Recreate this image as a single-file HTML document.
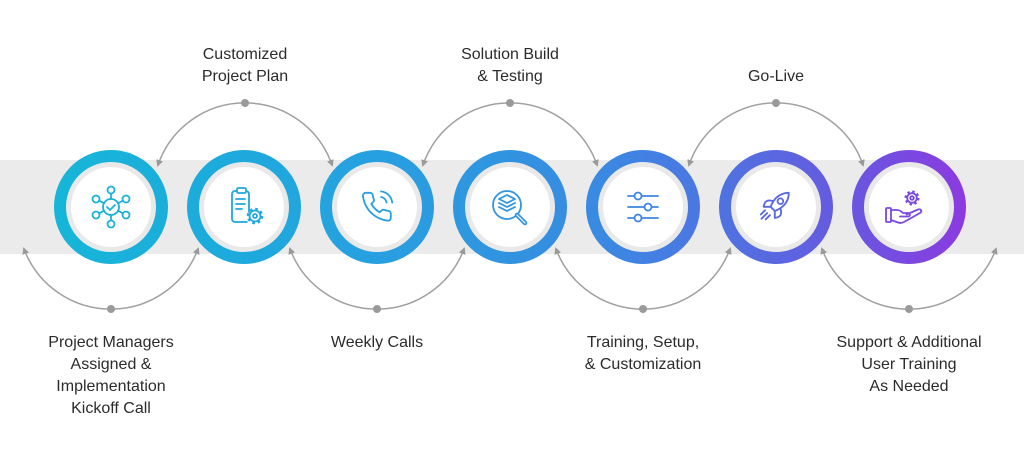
<!DOCTYPE html>
<html><head><meta charset="utf-8"><style>
html,body{margin:0;padding:0;background:#fff;width:1024px;height:454px;overflow:hidden}
svg{display:block}
text{font-family:"Liberation Sans",sans-serif;font-size:16px;fill:#2b2b2b;text-anchor:middle}
</style></head><body>
<svg width="1024" height="454" viewBox="0 0 1024 454" xmlns="http://www.w3.org/2000/svg">
<defs>
<linearGradient id="g" gradientUnits="userSpaceOnUse" x1="54" y1="0" x2="966" y2="0">
<stop offset="0" stop-color="#16b6d8"/>
<stop offset="0.21" stop-color="#1ea9dd"/>
<stop offset="0.35" stop-color="#27a0e0"/>
<stop offset="0.5" stop-color="#3193e0"/>
<stop offset="0.6" stop-color="#3a89e2"/>
<stop offset="0.7" stop-color="#4a78e2"/>
<stop offset="0.79" stop-color="#5968e0"/>
<stop offset="0.88" stop-color="#6a55e0"/>
<stop offset="1" stop-color="#8c3ae0"/>
</linearGradient>
<marker id="ah" viewBox="0 0 7 7" refX="5" refY="3.5" markerWidth="7" markerHeight="7" markerUnits="userSpaceOnUse" orient="auto-start-reverse">
<path d="M0,0 L7,3.5 L0,7 z" fill="#9a9a9a"/>
</marker>
</defs>

<rect x="0" y="160" width="1024" height="94" fill="#ebebeb"/>

<!-- arcs -->
<g fill="none" stroke="#a0a0a0" stroke-width="1.5" marker-start="url(#ah)" marker-end="url(#ah)">
<path d="M158,165 A92,92 0 0 1 332,165"/>
<path d="M423,165 A92,92 0 0 1 597,165"/>
<path d="M689,165 A92,92 0 0 1 863,165"/>
<path d="M24,249 A93,93 0 0 0 198,249"/>
<path d="M290,249 A93,93 0 0 0 464,249"/>
<path d="M556,249 A93,93 0 0 0 730,249"/>
<path d="M822,249 A93,93 0 0 0 996,249"/>
</g>
<g fill="#9a9a9a">
<circle cx="245" cy="103" r="4"/><circle cx="510" cy="103" r="4"/><circle cx="776" cy="103" r="4"/>
<circle cx="111" cy="309" r="4"/><circle cx="377" cy="309" r="4"/><circle cx="643" cy="309" r="4"/><circle cx="909" cy="309" r="4"/>
</g>

<!-- circles -->
<g>
<circle cx="111" cy="207" r="45" fill="#e9e9e9"/><circle cx="111" cy="207" r="40" fill="#fff"/>
<circle cx="244" cy="207" r="45" fill="#e9e9e9"/><circle cx="244" cy="207" r="40" fill="#fff"/>
<circle cx="377" cy="207" r="45" fill="#e9e9e9"/><circle cx="377" cy="207" r="40" fill="#fff"/>
<circle cx="510" cy="207" r="45" fill="#e9e9e9"/><circle cx="510" cy="207" r="40" fill="#fff"/>
<circle cx="643" cy="207" r="45" fill="#e9e9e9"/><circle cx="643" cy="207" r="40" fill="#fff"/>
<circle cx="776" cy="207" r="45" fill="#e9e9e9"/><circle cx="776" cy="207" r="40" fill="#fff"/>
<circle cx="909" cy="207" r="45" fill="#e9e9e9"/><circle cx="909" cy="207" r="40" fill="#fff"/>
</g>
<g fill="none" stroke="url(#g)" stroke-width="12">
<circle cx="111" cy="207" r="51"/><circle cx="244" cy="207" r="51"/><circle cx="377" cy="207" r="51"/>
<circle cx="510" cy="207" r="51"/><circle cx="643" cy="207" r="51"/><circle cx="776" cy="207" r="51"/>
<circle cx="909" cy="207" r="51"/>
</g>

<!-- icon 1: network -->
<g fill="none" stroke="#1bb2d9" stroke-width="1.8" stroke-linecap="round" stroke-linejoin="round">
<circle cx="111" cy="207" r="8"/>
<path d="M107,207 l3,3 l5,-5"/>
<circle cx="111" cy="190" r="3.5"/><circle cx="111" cy="224" r="3.5"/>
<circle cx="96" cy="199" r="3.5"/><circle cx="96" cy="215" r="3.5"/>
<circle cx="126" cy="199" r="3.5"/><circle cx="126" cy="215" r="3.5"/>
<path d="M111,193.5 V199 M111,215 V220.5 M99,200.6 L104,203.3 M99,213.4 L104,210.7 M123,200.6 L118,203.3 M123,213.4 L118,210.7"/>
</g>

<!-- icon 2: clipboard + gear -->
<g fill="none" stroke="#1ea8dd" stroke-width="1.8" stroke-linecap="round" stroke-linejoin="round">
<path d="M249,212 V194 a3,3 0 0 0 -3,-3 H235 a3,3 0 0 0 -3,3 V219 a3,3 0 0 0 3,3 H247"/>
<rect x="237" y="188" width="9" height="5" rx="1.5" fill="#fff"/>
<path d="M236,199 H245 M236,204 H245 M236,209 H242"/>
<circle cx="255" cy="216" r="5.5" fill="#fff"/>
<circle cx="255" cy="216" r="2"/>
<circle cx="255" cy="216" r="7" stroke-width="2.6" stroke-dasharray="2.6 2.9" stroke-linecap="butt"/>
</g>

<!-- icon 3: phone -->
<g fill="none" stroke="#27a0e0" stroke-width="1.3" stroke-linecap="round" stroke-linejoin="round" transform="translate(360,190) scale(1.4)">
<path d="M22 16.92v3a2 2 0 0 1-2.18 2 19.79 19.79 0 0 1-8.63-3.07 19.5 19.5 0 0 1-6-6 19.79 19.79 0 0 1-3.07-8.67A2 2 0 0 1 4.11 2h3a2 2 0 0 1 2 1.72 12.84 12.84 0 0 0 .7 2.81 2 2 0 0 1-.45 2.11L8.09 9.91a16 16 0 0 0 6 6l1.27-1.27a2 2 0 0 1 2.11-.45 12.84 12.84 0 0 0 2.81.7A2 2 0 0 1 22 16.92z"/>
<path d="M15.05 5A5 5 0 0 1 19 8.95M15.05 1A9 9 0 0 1 23 8.94"/>
</g>

<!-- icon 4: layers magnifier -->
<g fill="none" stroke="#3194e0" stroke-width="1.8" stroke-linecap="round" stroke-linejoin="round">
<circle cx="507" cy="205" r="14"/>
<path d="M507,195 L515,199 L507,203 L499,199 Z"/>
<path d="M499,203 L507,207 L515,203"/>
<path d="M499,207 L507,211 L515,207"/>
<path d="M517,215 L525,223" stroke-width="4.5"/>
<path d="M517,215 L525,223" stroke="#fff" stroke-width="1.2"/>
</g>

<!-- icon 5: sliders -->
<g fill="none" stroke="#3e86e2" stroke-width="1.8" stroke-linecap="round">
<path d="M628,196 H658 M628,207 H658 M628,218 H658"/>
<circle cx="638" cy="196" r="3.5" fill="#fff"/>
<circle cx="648" cy="207" r="3.5" fill="#fff"/>
<circle cx="638" cy="218" r="3.5" fill="#fff"/>
</g>

<!-- icon 6: rocket -->
<g fill="none" stroke="#5768e0" stroke-width="1.3" stroke-linecap="round" stroke-linejoin="round" transform="translate(758,190) scale(1.4)">
<path d="M12 15l-3-3a22 22 0 0 1 2-3.95A12.88 12.88 0 0 1 22 2c0 2.72-.78 7.5-6 11a22.35 22.35 0 0 1-4 2z"/>
<path d="M9 12H4s.55-3.03 2-4c1.62-1.08 5 0 5 0"/>
<path d="M12 15v5s3.03-.55 4-2c1.08-1.62 0-5 0-5"/>
<circle cx="16" cy="8" r="2"/>
<path d="M6.5 16.5l-4 4M8.5 18l-3 3M5 14.5l-3 3"/>
</g>

<!-- icon 7: hand + gear -->
<g fill="none" stroke="#7a48e0" stroke-width="1.8" stroke-linecap="round" stroke-linejoin="round">
<rect x="886" y="208" width="5" height="14" rx="1"/>
<path d="M891,210 H897 C900,210 902,212 903,213 H908 C910.5,213 910.5,216.5 908,216.5 H900"/>
<path d="M891,220 L898,222.5 C900,223.2 902,223 904,222 L920,213 C922.5,211.5 921,208.5 918,209.5 L906.5,214.5"/>
<circle cx="912" cy="198" r="4.8" fill="#fff"/>
<circle cx="912" cy="198" r="1.8"/>
<circle cx="912" cy="198" r="6.3" stroke-width="2.4" stroke-dasharray="2.4 2.55" stroke-linecap="butt"/>
</g>

<!-- labels -->
<text x="245" y="59">Customized</text>
<text x="245" y="81">Project Plan</text>
<text x="510" y="59">Solution Build</text>
<text x="510" y="81">&amp; Testing</text>
<text x="776" y="81">Go-Live</text>

<text x="111" y="347">Project Managers</text>
<text x="111" y="369">Assigned &amp;</text>
<text x="111" y="391">Implementation</text>
<text x="111" y="413">Kickoff Call</text>

<text x="377" y="347">Weekly Calls</text>

<text x="643" y="347">Training, Setup,</text>
<text x="643" y="369">&amp; Customization</text>

<text x="909" y="347">Support &amp; Additional</text>
<text x="909" y="369">User Training</text>
<text x="909" y="391">As Needed</text>
</svg>
</body></html>
